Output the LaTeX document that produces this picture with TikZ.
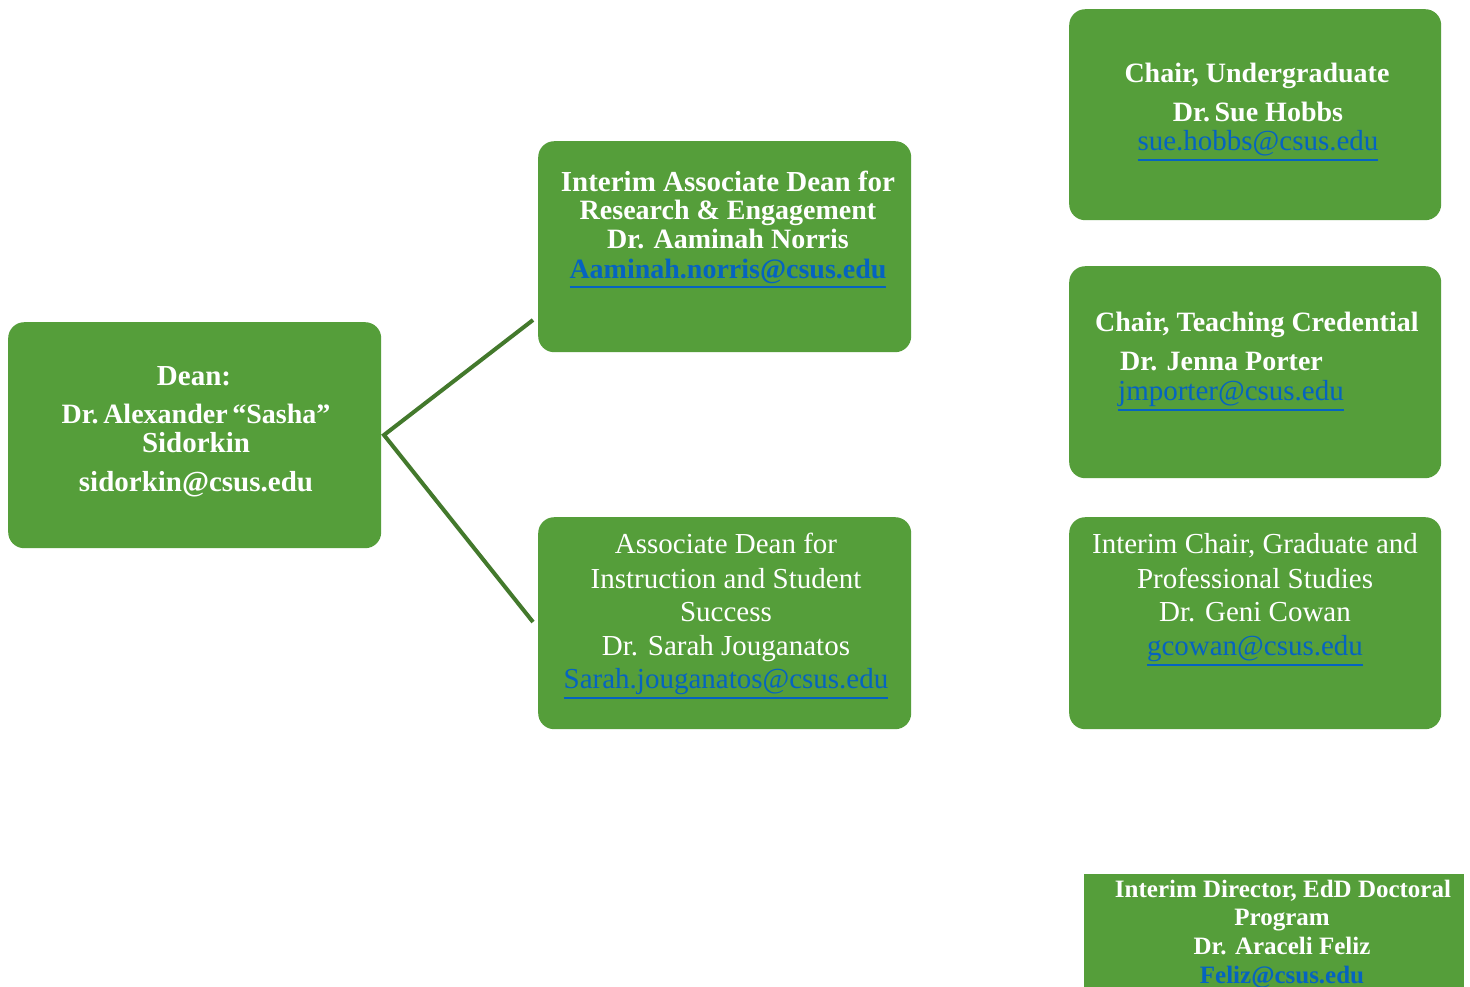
\documentclass[tikz,border=0pt]{standalone}
\usepackage{fontspec}
\setmainfont{Liberation Serif}
\definecolor{boxgreen}{HTML}{559E3A}
\definecolor{linegreen}{HTML}{43792C}
\definecolor{linkblue}{HTML}{0563C1}
\newcommand\mylink[1]{\vtop{\hbox{#1}\kern 3pt\hrule height 2pt}}
\begin{document}
\begin{tikzpicture}[x=1pt,y=-1pt,
  box/.style={fill=boxgreen, draw=none, rounded corners=16pt, inner sep=0pt, anchor=north west},
  sqbox/.style={fill=boxgreen, draw=none, inner sep=0pt, anchor=north west},
  bt/.style={text=white, inner sep=0pt, anchor=base, font=\fontsize{29}{33}\selectfont\bfseries},
  btn/.style={text=white, inner sep=0pt, anchor=base, font=\fontsize{28}{33}\selectfont\bfseries},
  bts/.style={text=white, inner sep=0pt, anchor=base, font=\fontsize{28}{33}\selectfont\bfseries},
  btf/.style={text=white, inner sep=0pt, anchor=base, font=\fontsize{25}{29}\selectfont\bfseries},
  rt/.style={text=white, inner sep=0pt, anchor=base, font=\fontsize{29}{33}\selectfont},
  link/.style={text=linkblue, inner sep=0pt, anchor=base, font=\fontsize{29}{33}\selectfont},
  conn/.style={draw=linegreen, line width=4pt}]
\useasboundingbox (0,0) rectangle (1470,986);
\clip (0,0) rectangle (1470,986);
\fill[white] (0,0) rectangle (1470,986);

% boxes
\node[box, minimum width=373pt, minimum height=226pt] (dean) at (8,322) {};
\node[box, minimum width=373pt, minimum height=211pt] (resbox) at (538,141) {};
\node[box, minimum width=373pt, minimum height=212pt] (insbox) at (538,517) {};
\node[box, minimum width=372pt, minimum height=211pt] (ugbox) at (1069,9) {};
\node[box, minimum width=372pt, minimum height=212pt] (tcbox) at (1069,266) {};
\node[box, minimum width=372pt, minimum height=212pt] (gpbox) at (1069,517) {};
\node[sqbox, minimum width=380pt, minimum height=130pt] (edbox) at (1084,874) {};

% connectors
\coordinate (deanout) at (384,435);
\coordinate (resend) at (533,320);
\coordinate (insend) at (533,622);
\draw[conn] (resend) -- (deanout) -- (insend);

% dean
\node[bt] (d1) at (194,385) {Dean:};
\node[btn] (d2) at (196,423) {Dr.\,Alexander\,“Sasha”};
\node[bt] (d3) at (196,452) {Sidorkin};
\node[bt] (d4) at (196,491) {sidorkin@csus.edu};

% research
\node[bt] (r1) at (728,191) {Interim Associate Dean for};
\node[btn] (r2) at (728,219) {Research \& Engagement};
\node[btn] (r3) at (728,248) {Dr. Aaminah Norris};
\node[btn, text=linkblue] (r4) at (728,278) {\mylink{Aaminah.norris@csus.edu}};

% instruction
\node[rt] (i1) at (726,553) {Associate Dean for};
\node[rt] (i2) at (726,588) {Instruction and Student};
\node[rt] (i3) at (726,621) {Success};
\node[rt] (i4) at (726,655) {Dr. Sarah Jouganatos};
\node[link] (i5) at (726,688) {\mylink{Sarah.jouganatos@csus.edu}};

% undergraduate
\node[bts] (u1) at (1257,82) {Chair, Undergraduate};
\node[bts] (u2) at (1258,121) {Dr.\,Sue Hobbs};
\node[link] (u3) at (1258,150) {\mylink{sue.hobbs@csus.edu}};

% teaching credential
\node[bts, anchor=base west] (t1) at (1095,331) {Chair, Teaching Credential};
\node[bts, anchor=base west] (t2) at (1120,370) {Dr. Jenna Porter};
\node[link, anchor=base west] (t3) at (1118,400) {\mylink{jmporter@csus.edu}};

% graduate
\node[rt] (g1) at (1255,553) {Interim Chair, Graduate and};
\node[rt] (g2) at (1255,588) {Professional Studies};
\node[rt] (g3) at (1255,621) {Dr. Geni Cowan};
\node[link] (g4) at (1255,655) {\mylink{gcowan@csus.edu}};

% edd
\node[btf] (e1) at (1283,897) {Interim Director, EdD Doctoral};
\node[btf] (e2) at (1282,925) {Program};
\node[btf] (e3) at (1282,954) {Dr. Araceli Feliz};
\node[btf, text=linkblue] (e4) at (1282,983) {Feliz@csus.edu};
\end{tikzpicture}
\end{document}
